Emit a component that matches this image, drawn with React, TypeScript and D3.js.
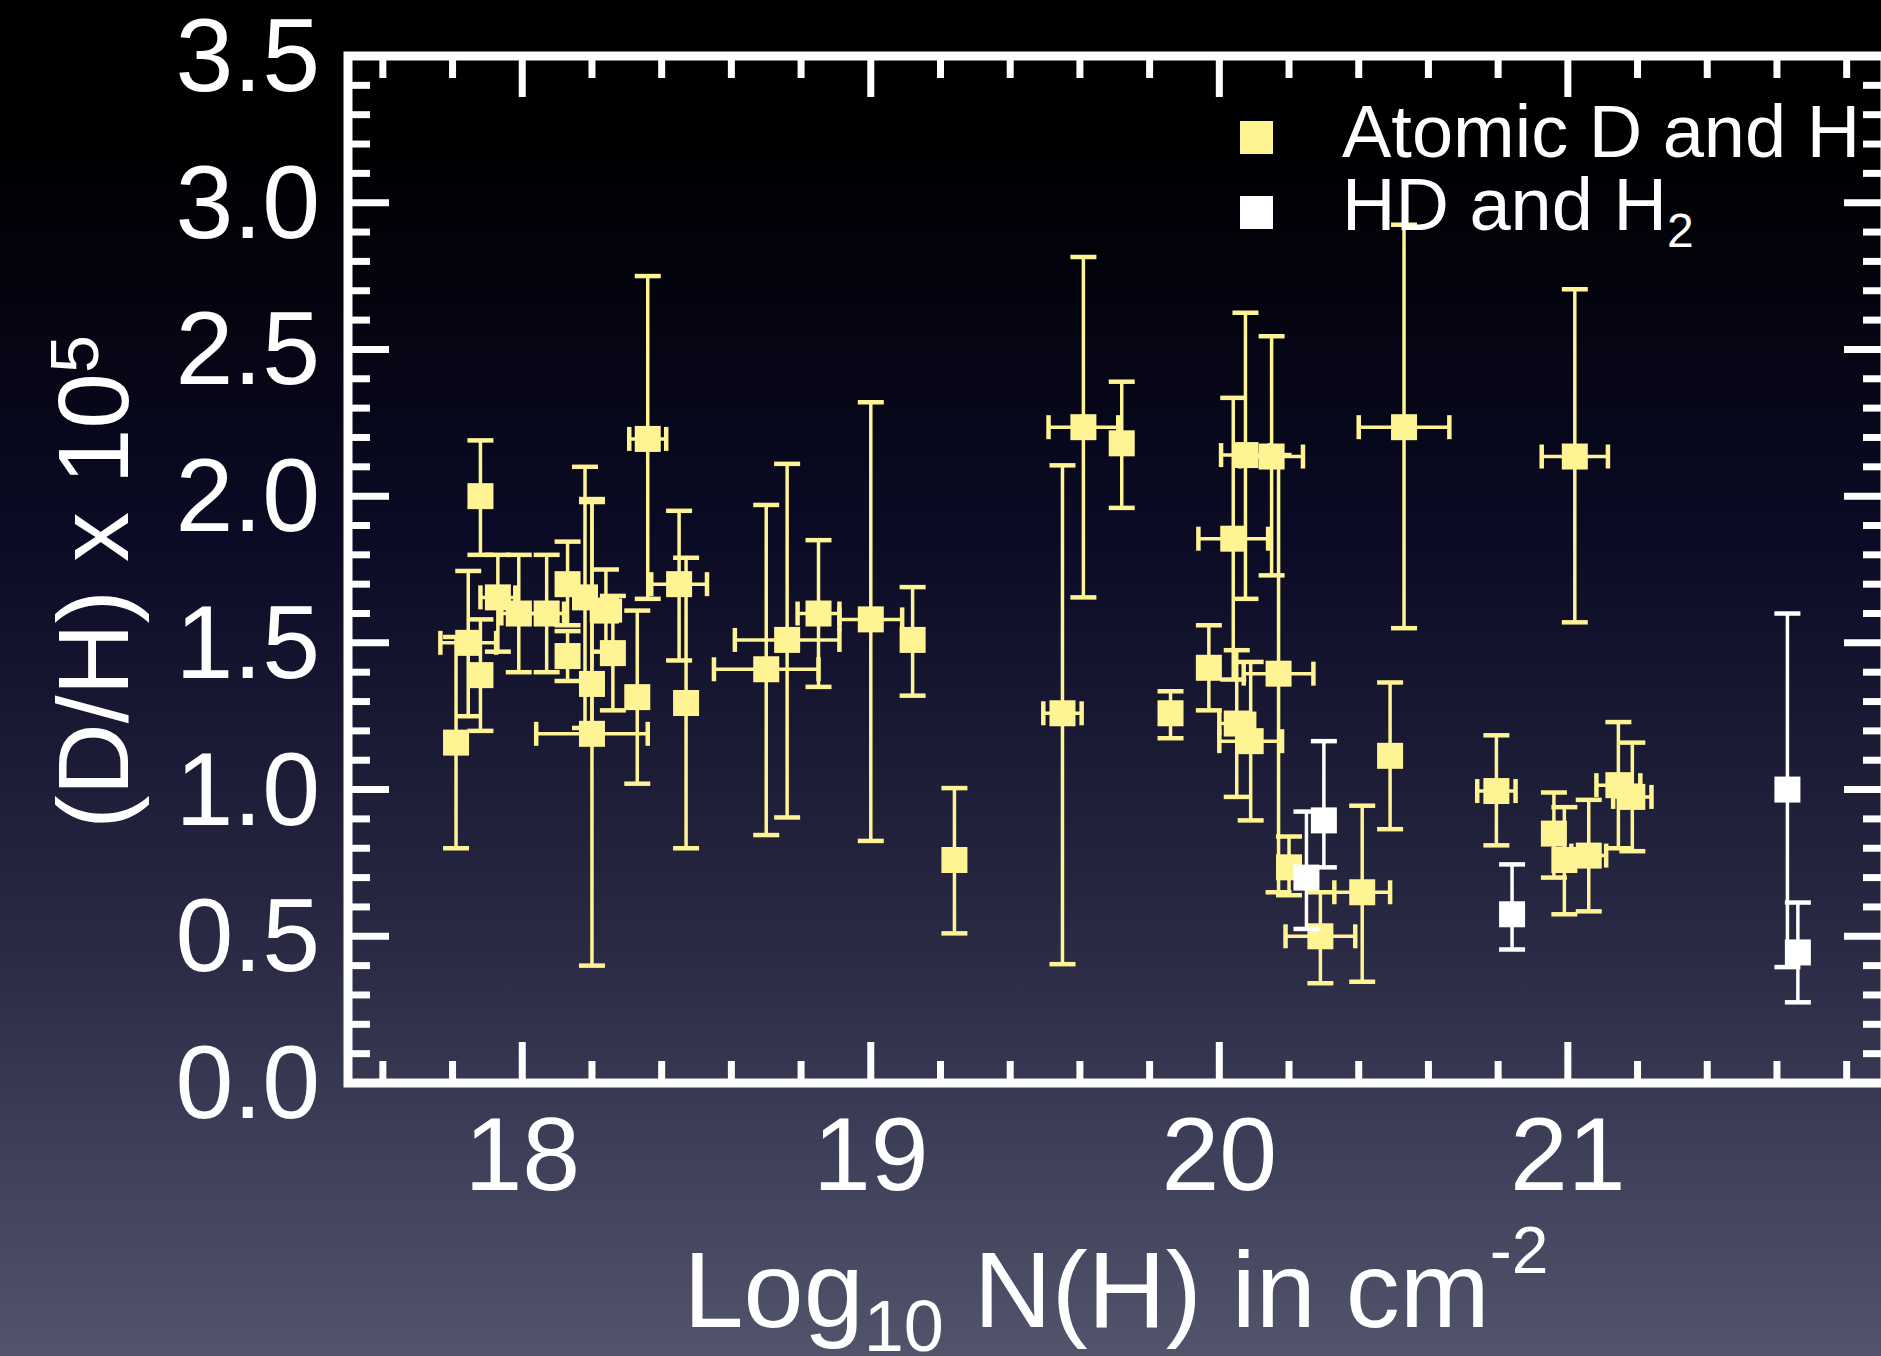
import React, { useRef, useEffect } from "react";
import * as d3 from "d3";

// Atomic D and H measurements: log N(H), D/H (x1e5), lower / upper error, log N error
const atomicLogN = [17.81, 17.845, 17.88, 17.88, 17.93, 17.99, 18.07, 18.13, 18.13, 18.18, 18.2, 18.2, 18.24, 18.26, 18.33, 18.36, 18.45, 18.47, 18.7, 18.76, 18.85, 19.0, 19.12, 19.24, 19.55, 19.61, 19.72, 19.86, 19.97, 20.04, 20.075, 20.15, 20.05, 20.09, 20.17, 20.2, 20.29, 20.41, 20.49, 20.53, 20.795, 20.96, 20.99, 21.02, 21.06, 21.145, 21.185];
const atomicDH = [1.16, 1.5, 1.39, 2.0, 1.655, 1.6, 1.6, 1.7, 1.455, 1.655, 1.36, 1.19, 1.61, 1.465, 1.315, 2.195, 1.7, 1.295, 1.41, 1.51, 1.6, 1.58, 1.51, 0.76, 1.26, 2.235, 2.18, 1.26, 1.415, 1.855, 2.14, 2.135, 1.225, 1.165, 1.395, 0.735, 0.5, 0.65, 1.115, 2.235, 0.995, 0.85, 0.76, 2.135, 0.775, 1.015, 0.975];
const atomicLow = [0.8, 1.25, 1.2, 1.8, 1.47, 1.4, 1.4, 1.56, 1.37, 1.21, 1.19, 0.4, 1.47, 1.27, 1.02, 1.65, 1.44, 0.8, 0.845, 0.905, 1.35, 0.825, 1.32, 0.51, 0.405, 1.655, 1.96, 1.175, 1.27, 1.375, 1.65, 1.73, 0.975, 0.895, 0.65, 0.64, 0.34, 0.345, 0.865, 1.55, 0.81, 0.7, 0.575, 1.57, 0.585, 0.8, 0.79];
const atomicHigh = [1.52, 1.745, 1.58, 2.19, 1.8, 1.8, 1.8, 1.845, 1.54, 2.1, 1.99, 1.98, 1.75, 1.66, 1.61, 2.75, 1.95, 1.79, 1.97, 2.11, 1.85, 2.32, 1.69, 1.005, 2.105, 2.815, 2.39, 1.335, 1.56, 2.335, 2.625, 2.545, 1.475, 1.435, 2.14, 0.84, 0.65, 0.945, 1.365, 2.925, 1.185, 0.99, 0.94, 2.705, 0.965, 1.23, 1.16];
const atomicLogNErr = [0, 0.08, 0, 0, 0.05, 0.05, 0.05, 0, 0, 0, 0, 0.16, 0.04, 0, 0, 0.053, 0.08, 0, 0.15, 0.15, 0.06, 0.09, 0, 0, 0.055, 0.1, 0, 0, 0, 0.1, 0.07, 0.09, 0.05, 0.09, 0.1, 0, 0.1, 0.08, 0, 0.13, 0.055, 0, 0, 0.095, 0.05, 0.063, 0.055];

// HD and H2 measurements
const molecularLogN = [20.25, 20.3, 20.84, 21.63, 21.66];
const molecularDH = [0.7, 0.895, 0.575, 1.0, 0.445];
const molecularLow = [0.525, 0.735, 0.455, 0.395, 0.275];
const molecularHigh = [0.925, 1.165, 0.745, 1.6, 0.615];

const xTickLabels = [18, 19, 20, 21];
const yTickLabels = [0, 0.5, 1.0, 1.5, 2.0, 2.5, 3.0, 3.5];
const seriesNames = ["Atomic D and H", "HD and H"];

const YELLOW = "#fff493";
const WHITE = "#ffffff";
const FONT = "'Liberation Sans', Arial, Helvetica, sans-serif";

function drawSeries(g, x, y, xs, ys, lo, hi, xe, color) {
  const rows = xs.map((v, i) => ({ x: v, y: ys[i], lo: lo[i], hi: hi[i], xe: xe ? xe[i] : 0 }));
  const bars = g.append("g").attr("stroke", color).attr("fill", "none");
  rows.forEach((d) => {
    const cx = x(d.x);
    bars.append("line").attr("x1", cx).attr("x2", cx).attr("y1", y(d.lo)).attr("y2", y(d.hi)).attr("stroke-width", 3.5);
    [d.lo, d.hi].forEach((v) => {
      bars.append("line").attr("x1", cx - 13).attr("x2", cx + 13).attr("y1", y(v)).attr("y2", y(v)).attr("stroke-width", 4.5);
    });
    if (d.xe > 0) {
      const cy = y(d.y);
      bars.append("line").attr("x1", x(d.x - d.xe)).attr("x2", x(d.x + d.xe)).attr("y1", cy).attr("y2", cy).attr("stroke-width", 3.5);
      [d.x - d.xe, d.x + d.xe].forEach((v) => {
        bars.append("line").attr("x1", x(v)).attr("x2", x(v)).attr("y1", cy - 12).attr("y2", cy + 12).attr("stroke-width", 4.5);
      });
    }
  });
  g.append("g")
    .selectAll("rect")
    .data(rows)
    .join("rect")
    .attr("x", (d) => x(d.x) - 13)
    .attr("y", (d) => y(d.y) - 13)
    .attr("width", 26)
    .attr("height", 26)
    .attr("fill", color);
}

function App() {
  const svgRef = useRef(null);

  useEffect(() => {
    const width = 1881;
    const height = 1356;
    const svg = d3.select(svgRef.current);
    svg.selectAll("*").remove();

    const left = 348, right = 1885, top = 56, bottom = 1083;
    const x = d3.scaleLinear().domain([17.5, 21.91]).range([left, right]);
    const y = d3.scaleLinear().domain([0, 3.5]).range([bottom, top]);

    // background gradient
    const grad = svg.append("defs").append("linearGradient").attr("id", "bg").attr("x1", 0).attr("x2", 0).attr("y1", 0).attr("y2", 1);
    [[0, "#000000"], [0.12, "#000003"], [0.4, "#0b0b26"], [0.7, "#2a2a44"], [1, "#52546c"]].forEach(([o, c]) => {
      grad.append("stop").attr("offset", o).attr("stop-color", c);
    });
    svg.append("rect").attr("width", width).attr("height", height).attr("fill", "url(#bg)");

    // frame
    svg.append("rect").attr("x", left).attr("y", top).attr("width", right - left).attr("height", bottom - top)
      .attr("fill", "none").attr("stroke", "white").attr("stroke-width", 9);

    // ticks
    const ticks = svg.append("g").attr("stroke", "white").attr("stroke-width", 7);
    const xMinor = d3.range(17.6, 21.85, 0.2);
    xMinor.forEach((v) => {
      const major = Math.abs(v - Math.round(v)) < 1e-6;
      const len = major ? 41 : 22;
      ticks.append("line").attr("x1", x(v)).attr("x2", x(v)).attr("y1", bottom).attr("y2", bottom - len);
      ticks.append("line").attr("x1", x(v)).attr("x2", x(v)).attr("y1", top).attr("y2", top + len);
    });
    const yMinor = d3.range(0.1, 3.45, 0.1);
    yMinor.forEach((v) => {
      const major = Math.abs(v * 2 - Math.round(v * 2)) < 1e-6;
      const len = major ? 41 : 22;
      ticks.append("line").attr("x1", left).attr("x2", left + len).attr("y1", y(v)).attr("y2", y(v));
      ticks.append("line").attr("x1", right).attr("x2", right - len).attr("y1", y(v)).attr("y2", y(v));
    });

    // tick labels
    svg.append("g").selectAll("text").data(xTickLabels).join("text")
      .attr("x", (d) => x(d)).attr("y", 1190).attr("text-anchor", "middle")
      .attr("fill", "white").attr("font-family", FONT).attr("font-size", 104)
      .text((d) => d);
    svg.append("g").selectAll("text").data(yTickLabels).join("text")
      .attr("x", 320).attr("y", (d) => y(d) + 35).attr("text-anchor", "end")
      .attr("fill", "white").attr("font-family", FONT).attr("font-size", 104)
      .text((d) => d.toFixed(1));

    // axis titles
    const xt = svg.append("text").attr("x", 1116).attr("y", 1327).attr("text-anchor", "middle")
      .attr("fill", "white").attr("font-family", FONT).attr("font-size", 108);
    xt.append("tspan").text("Log");
    xt.append("tspan").attr("font-size", 72).attr("dy", 24).text("10");
    xt.append("tspan").attr("dy", -24).text(" N(H) in cm");
    xt.append("tspan").attr("font-size", 66).attr("dy", -54).text("-2");

    const yt = svg.append("text").attr("transform", "translate(128,582) rotate(-90)").attr("text-anchor", "middle")
      .attr("fill", "white").attr("font-family", FONT).attr("font-size", 100);
    yt.append("tspan").text("(D/H) x 10");
    yt.append("tspan").attr("font-size", 68).attr("dy", -30).text("5");

    // data
    const plot = svg.append("g");
    drawSeries(plot, x, y, atomicLogN, atomicDH, atomicLow, atomicHigh, atomicLogNErr, YELLOW);
    drawSeries(plot, x, y, molecularLogN, molecularDH, molecularLow, molecularHigh, null, WHITE);

    // legend
    const legend = svg.append("g");
    [YELLOW, WHITE].forEach((c, i) => {
      legend.append("rect").attr("x", 1240).attr("y", 121 + i * 75).attr("width", 33).attr("height", 33).attr("fill", c);
    });
    legend.append("text").attr("x", 1342).attr("y", 157).attr("fill", "white").attr("font-family", FONT)
      .attr("font-size", 74).text(seriesNames[0]);
    const l2 = legend.append("text").attr("x", 1342).attr("y", 230).attr("fill", "white").attr("font-family", FONT)
      .attr("font-size", 74);
    l2.append("tspan").text(seriesNames[1]);
    l2.append("tspan").attr("font-size", 48).attr("dy", 17).text("2");
  }, []);

  return (
    <svg ref={svgRef} width={1881} height={1356} style={{ position: "absolute", left: 0, top: 0, display: "block" }} />
  );
}

export default App;
